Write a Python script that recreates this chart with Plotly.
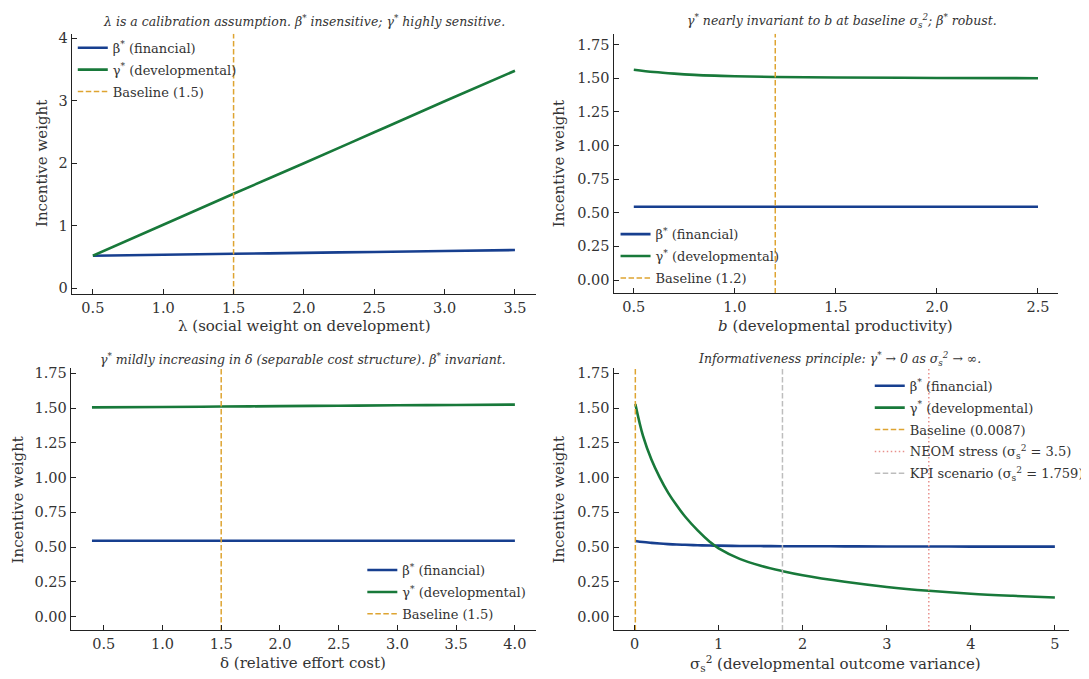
import plotly.graph_objects as go

# The page body keeps the browser's default 8px margin, so the figure is
# laid out in screen coordinates shifted by that margin.
SCREEN_W, SCREEN_H = 1089, 679
OFF = 8
W, H = SCREEN_W - OFF, SCREEN_H - OFF

# ---------------- data ----------------
# Panel 1: lambda sweep
lam = [0.5, 1.0, 1.5, 2.0, 2.5, 3.0, 3.5]
lam_beta = [0.520, 0.535, 0.550, 0.565, 0.580, 0.595, 0.610]
lam_gamma = [0.520, 1.015, 1.510, 2.000, 2.495, 2.990, 3.480]
lam_base = 1.5

# Panel 2: b sweep
b_vals = [0.5, 0.6, 0.7, 0.8, 0.9, 1.0, 1.2, 1.5, 2.0, 2.5]
b_beta = [0.545, 0.545, 0.545, 0.545, 0.545, 0.545, 0.545, 0.545, 0.545, 0.545]
b_gamma = [1.563, 1.546, 1.534, 1.525, 1.519, 1.515, 1.509, 1.505, 1.502, 1.500]
b_base = 1.2

# Panel 3: delta sweep
d_vals = [0.4, 1.0, 1.5, 2.0, 2.5, 3.0, 3.5, 4.0]
d_beta = [0.545, 0.545, 0.545, 0.545, 0.545, 0.545, 0.545, 0.545]
d_gamma = [1.505, 1.508, 1.511, 1.514, 1.517, 1.520, 1.522, 1.525]
d_base = 1.5

# Panel 4: sigma_s^2 sweep
s_vals = [0.0087, 0.1, 0.2, 0.3, 0.4, 0.5, 0.6, 0.75, 0.9, 1.0, 1.25, 1.5, 1.75,
          2.0, 2.5, 3.0, 3.5, 4.0, 4.5, 5.0]
s_beta = [0.544, 0.536, 0.530, 0.525, 0.521, 0.518, 0.516, 0.513, 0.511, 0.510, 0.508,
          0.507, 0.506, 0.506, 0.505, 0.504, 0.504, 0.503, 0.503, 0.503]
s_gamma = [1.530, 1.300, 1.130, 1.000, 0.890, 0.800, 0.720, 0.620, 0.535, 0.490, 0.415,
           0.365, 0.328, 0.297, 0.250, 0.213, 0.185, 0.164, 0.149, 0.137]
s_base = 0.0087
s_neom = 3.5
s_kpi = 1.759

# tick labels
p1_yticks = [0, 1, 2, 3, 4]
p1_xticks = [0.5, 1.0, 1.5, 2.0, 2.5, 3.0, 3.5]
w_yticks = [0.0, 0.25, 0.5, 0.75, 1.0, 1.25, 1.5, 1.75]
p2_xticks = [0.5, 1.0, 1.5, 2.0, 2.5]
p3_xticks = [0.5, 1.0, 1.5, 2.0, 2.5, 3.0, 3.5, 4.0]
p4_xticks = [0, 1, 2, 3, 4, 5]

# ---------------- style ----------------
BLUE = "#173f8f"
GREEN = "#18793a"
GOLD = "#dea431"
RED = "#e8908c"
GREY = "#bdbdbd"
FONT = "DejaVu Serif"
TXT = "#333333"
DASH = "5.5px,2.5px"
DOT = "1.5px,2.5px"

def px(x):
    return (x - OFF) / W

def py(y):
    return 1 - (y - OFF) / H

fig = go.Figure()

panels = [
    # (xaxis, yaxis, legend, xdomain px, ydomain px, xrange, yrange)
    ("x", "y", "legend", (73, 546), (30, 293), [0.35, 3.65], [-0.1, 4.07]),
    ("x2", "y2", "legend2", (625, 1078), (30, 292), [0.4, 2.6], [-0.1, 1.83]),
    ("x3", "y3", "legend3", (72, 546), (367, 632), [0.22, 4.18], [-0.1, 1.79]),
    ("x4", "y4", "legend4", (625, 1089), (367, 632), [-0.25, 5.168], [-0.1, 1.79]),
]

series = [
    (lam, lam_beta, lam_gamma, [("Baseline (1.5)", lam_base, GOLD, DASH)]),
    (b_vals, b_beta, b_gamma, [("Baseline (1.2)", b_base, GOLD, DASH)]),
    (d_vals, d_beta, d_gamma, [("Baseline (1.5)", d_base, GOLD, DASH)]),
    (s_vals, s_beta, s_gamma, [
        ("Baseline (0.0087)", s_base, GOLD, DASH),
        ("NEOM stress (σ<sub>s</sub><sup>2</sup> = 3.5)", s_neom, RED, DOT),
        ("KPI scenario (σ<sub>s</sub><sup>2</sup> = 1.759)", s_kpi, GREY, DASH),
    ]),
]

for (xa, ya, lg, xd, yd, xr, yr), (xs, bs, gs, vlines) in zip(panels, series):
    fig.add_trace(go.Scatter(x=xs, y=bs, mode="lines", name="β<sup>*</sup> (financial)",
                             line=dict(color=BLUE, width=2.6, shape="spline"),
                             xaxis=xa, yaxis=ya, legend=lg, legendgroup=lg + "b"))
    fig.add_trace(go.Scatter(x=xs, y=gs, mode="lines", name="γ<sup>*</sup> (developmental)",
                             line=dict(color=GREEN, width=2.6, shape="spline"),
                             xaxis=xa, yaxis=ya, legend=lg, legendgroup=lg + "g"))
    for i, (nm, xv, col, dash) in enumerate(vlines):
        fig.add_trace(go.Scatter(x=[xv, xv], y=yr, mode="lines", name=nm,
                                 line=dict(color=col, width=1.5, dash=dash),
                                 xaxis=xa, yaxis=ya, legend=lg, legendgroup=lg + "v%d" % i))

axis_common = dict(showgrid=False, zeroline=False, showline=True, linecolor="#222222",
                   linewidth=1.2, ticks="inside", ticklen=5, tickwidth=1.1, tickcolor="#222222",
                   tickfont=dict(family=FONT, size=14.5, color=TXT), mirror=False)

xticks_list = [p1_xticks, p2_xticks, p3_xticks, p4_xticks]
yticks_list = [p1_yticks, w_yticks, w_yticks, w_yticks]
xfmt = [".1f", ".1f", ".1f", "d"]
yfmt = ["d", ".2f", ".2f", ".2f"]

layout = {}
for i, (xa, ya, lg, xd, yd, xr, yr) in enumerate(panels):
    xname = "xaxis" if i == 0 else "xaxis%d" % (i + 1)
    yname = "yaxis" if i == 0 else "yaxis%d" % (i + 1)
    layout[xname] = dict(axis_common, domain=[max(0, px(xd[0])), min(1, px(xd[1]))], range=xr,
                         tickvals=xticks_list[i], tickformat=xfmt[i], anchor=ya)
    layout[yname] = dict(axis_common, domain=[max(0, py(yd[1])), min(1, py(yd[0]))], range=yr,
                         tickvals=yticks_list[i], tickformat=yfmt[i], anchor=xa)

leg_common = dict(font=dict(family=FONT, size=13, color=TXT), bgcolor="rgba(255,255,255,0)",
                  borderwidth=0, traceorder="grouped", tracegroupgap=2, itemwidth=30)
layout["legend"] = dict(leg_common, x=px(74), y=py(29), xanchor="left", yanchor="top")
layout["legend2"] = dict(leg_common, x=px(627), y=py(217), xanchor="left", yanchor="top")
layout["legend3"] = dict(leg_common, x=px(369), y=py(556), xanchor="left", yanchor="top")
layout["legend4"] = dict(leg_common, x=px(886), y=py(370), xanchor="left", yanchor="top")

fig.update_layout(**layout)

titles = [
    ("<i>λ is a calibration assumption. β<sup>*</sup> insensitive; γ<sup>*</sup> highly sensitive.</i>", 310, 17),
    ("<i>γ<sup>*</sup> nearly invariant to b at baseline σ<sub>s</sub><sup>2</sup>; β<sup>*</sup> robust.</i>", 858, 17),
    ("<i>γ<sup>*</sup> mildly increasing in δ (separable cost structure). β<sup>*</sup> invariant.</i>", 309, 358),
    ("<i>Informativeness principle: γ<sup>*</sup> → 0 as σ<sub>s</sub><sup>2</sup> → ∞.</i>", 855, 358),
]
xlabels = [
    ("λ (social weight on development)", 310, 325),
    ("<i>b</i> (developmental productivity)", 851, 325),
    ("δ (relative effort cost)", 309, 665),
    ("σ<sub>s</sub><sup>2</sup> (developmental outcome variance)", 851, 665),
]
ylabels = [(42, 161), (569, 161), (18, 500), (569, 500)]

ann = []
for t, x, y in titles:
    ann.append(dict(text=t, x=px(x), y=py(y), xref="paper", yref="paper", showarrow=False,
                    xanchor="center", yanchor="middle", font=dict(family=FONT, size=12.5, color=TXT)))
for t, x, y in xlabels:
    ann.append(dict(text=t, x=px(x), y=py(y), xref="paper", yref="paper", showarrow=False,
                    xanchor="center", yanchor="middle", font=dict(family=FONT, size=15, color=TXT)))
for x, y in ylabels:
    ann.append(dict(text="Incentive weight", x=px(x), y=py(y), xref="paper", yref="paper",
                    showarrow=False, textangle=-90, xanchor="center", yanchor="middle",
                    font=dict(family=FONT, size=15, color=TXT)))

fig.update_layout(width=W, height=H, margin=dict(l=0, r=0, t=0, b=0), autosize=False,
                  paper_bgcolor="white", plot_bgcolor="white", annotations=ann,
                  showlegend=True)

fig.write_html("out.html", config={"displayModeBar": False})
